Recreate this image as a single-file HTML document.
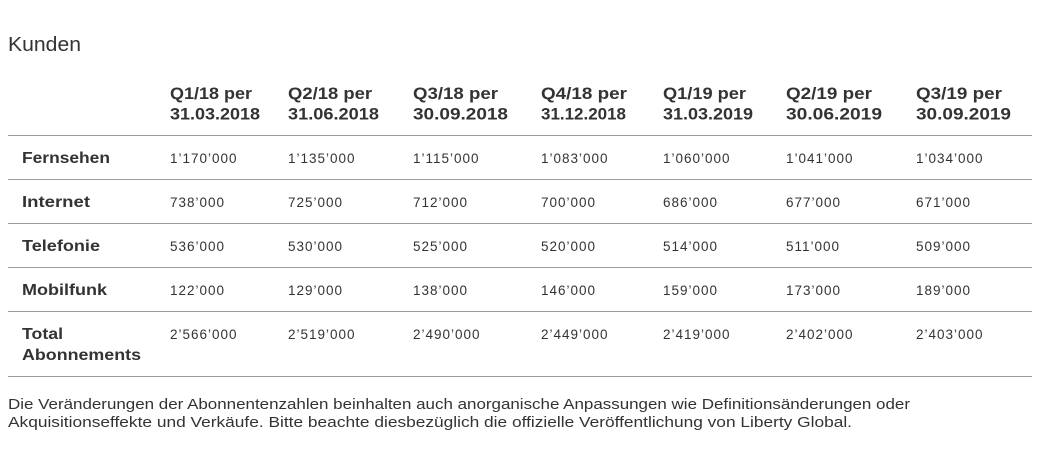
<!DOCTYPE html>
<html><head><meta charset="utf-8"><style>
html,body{margin:0;padding:0;background:#fff;width:1058px;height:456px;overflow:hidden}
svg{display:block}
text{font-family:"Liberation Sans",sans-serif;fill:#333}
.h{font-weight:bold;font-size:16.5px}
.l{font-weight:bold;font-size:16px}
.d{font-size:13.5px;letter-spacing:1px;fill:#363232}
.f{font-size:15px}
</style></head><body>
<svg width="1058" height="456" viewBox="0 0 1058 456" xmlns="http://www.w3.org/2000/svg">
<text x="8" y="51" font-size="20" textLength="73" lengthAdjust="spacingAndGlyphs">Kunden</text>

<g class="h">
<text class="h" x="170" y="99" textLength="82" lengthAdjust="spacingAndGlyphs">Q1/18 per</text>
<text class="h" x="170" y="119.5" textLength="90" lengthAdjust="spacingAndGlyphs">31.03.2018</text>
<text class="h" x="288" y="99" textLength="84" lengthAdjust="spacingAndGlyphs">Q2/18 per</text>
<text class="h" x="288" y="119.5" textLength="91" lengthAdjust="spacingAndGlyphs">31.06.2018</text>
<text class="h" x="413" y="99" textLength="85" lengthAdjust="spacingAndGlyphs">Q3/18 per</text>
<text class="h" x="413" y="119.5" textLength="95" lengthAdjust="spacingAndGlyphs">30.09.2018</text>
<text class="h" x="541" y="99" textLength="86" lengthAdjust="spacingAndGlyphs">Q4/18 per</text>
<text class="h" x="541" y="119.5" textLength="85" lengthAdjust="spacingAndGlyphs">31.12.2018</text>
<text class="h" x="663" y="99" textLength="83" lengthAdjust="spacingAndGlyphs">Q1/19 per</text>
<text class="h" x="663" y="119.5" textLength="90" lengthAdjust="spacingAndGlyphs">31.03.2019</text>
<text class="h" x="786" y="99" textLength="86" lengthAdjust="spacingAndGlyphs">Q2/19 per</text>
<text class="h" x="786" y="119.5" textLength="96" lengthAdjust="spacingAndGlyphs">30.06.2019</text>
<text class="h" x="916" y="99" textLength="86" lengthAdjust="spacingAndGlyphs">Q3/19 per</text>
<text class="h" x="916" y="119.5" textLength="95" lengthAdjust="spacingAndGlyphs">30.09.2019</text>
</g>

<g stroke="#9b9b9b" stroke-width="1">
<line x1="8" y1="135.5" x2="1032" y2="135.5"/>
<line x1="8" y1="179.5" x2="1032" y2="179.5"/>
<line x1="8" y1="223.5" x2="1032" y2="223.5"/>
<line x1="8" y1="267.5" x2="1032" y2="267.5"/>
<line x1="8" y1="311.5" x2="1032" y2="311.5"/>
<line x1="8" y1="376.5" x2="1032" y2="376.5"/>
</g>

<text class="l" x="22" y="163" textLength="88" lengthAdjust="spacingAndGlyphs">Fernsehen</text>
<text class="l" x="22" y="207" textLength="68" lengthAdjust="spacingAndGlyphs">Internet</text>
<text class="l" x="22" y="251" textLength="78" lengthAdjust="spacingAndGlyphs">Telefonie</text>
<text class="l" x="22" y="295" textLength="85" lengthAdjust="spacingAndGlyphs">Mobilfunk</text>
<text class="l" x="22" y="339" textLength="41" lengthAdjust="spacingAndGlyphs">Total</text>
<text class="l" x="22" y="360" textLength="119" lengthAdjust="spacingAndGlyphs">Abonnements</text>

<g class="d">
<text class="d" x="170" y="163">1’170’000</text>
<text class="d" x="288" y="163">1’135’000</text>
<text class="d" x="413" y="163">1’115’000</text>
<text class="d" x="541" y="163">1’083’000</text>
<text class="d" x="663" y="163">1’060’000</text>
<text class="d" x="786" y="163">1’041’000</text>
<text class="d" x="916" y="163">1’034’000</text>

<text class="d" x="170" y="207">738’000</text>
<text class="d" x="288" y="207">725’000</text>
<text class="d" x="413" y="207">712’000</text>
<text class="d" x="541" y="207">700’000</text>
<text class="d" x="663" y="207">686’000</text>
<text class="d" x="786" y="207">677’000</text>
<text class="d" x="916" y="207">671’000</text>

<text class="d" x="170" y="251">536’000</text>
<text class="d" x="288" y="251">530’000</text>
<text class="d" x="413" y="251">525’000</text>
<text class="d" x="541" y="251">520’000</text>
<text class="d" x="663" y="251">514’000</text>
<text class="d" x="786" y="251">511’000</text>
<text class="d" x="916" y="251">509’000</text>

<text class="d" x="170" y="295">122’000</text>
<text class="d" x="288" y="295">129’000</text>
<text class="d" x="413" y="295">138’000</text>
<text class="d" x="541" y="295">146’000</text>
<text class="d" x="663" y="295">159’000</text>
<text class="d" x="786" y="295">173’000</text>
<text class="d" x="916" y="295">189’000</text>

<text class="d" x="170" y="339">2’566’000</text>
<text class="d" x="288" y="339">2’519’000</text>
<text class="d" x="413" y="339">2’490’000</text>
<text class="d" x="541" y="339">2’449’000</text>
<text class="d" x="663" y="339">2’419’000</text>
<text class="d" x="786" y="339">2’402’000</text>
<text class="d" x="916" y="339">2’403’000</text>
</g>

<text class="f" x="8" y="409" textLength="902" lengthAdjust="spacingAndGlyphs">Die Veränderungen der Abonnentenzahlen beinhalten auch anorganische Anpassungen wie Definitionsänderungen oder</text>
<text class="f" x="8" y="427" textLength="844" lengthAdjust="spacingAndGlyphs">Akquisitionseffekte und Verkäufe. Bitte beachte diesbezüglich die offizielle Veröffentlichung von Liberty Global.</text>
</svg>
</body></html>
